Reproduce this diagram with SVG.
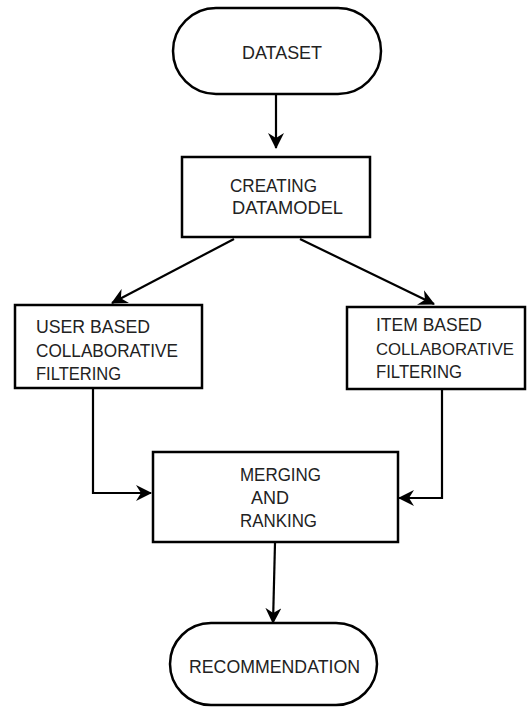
<svg xmlns="http://www.w3.org/2000/svg" width="528" height="708" viewBox="0 0 528 708">
<style>
.box{fill:#fff;stroke:#000;stroke-width:2.5}
.t{font-family:"Liberation Sans",Arial,sans-serif;font-size:19px;fill:#222}
.s{font-size:16.5px}
.c{fill:none;stroke:#000;stroke-width:2.2}
</style>
<defs>
<marker id="ah" viewBox="0 0 16 16" refX="15" refY="8" markerWidth="16" markerHeight="16" markerUnits="userSpaceOnUse" orient="auto">
<path d="M0,0 L16,8 L0,16 L5,8 Z" fill="#000"/>
</marker>
</defs>
<rect width="528" height="708" fill="#fff"/>
<g id="connectors">
<path class="c" d="M276,94 V148" marker-end="url(#ah)"/>
<path class="c" d="M234,239 L112,303" marker-end="url(#ah)"/>
<path class="c" d="M300,239 L434,304" marker-end="url(#ah)"/>
<path class="c" d="M93,389 V493 H151" marker-end="url(#ah)"/>
<path class="c" d="M442,390 V498 H399" marker-end="url(#ah)"/>
<path class="c" d="M275,543 L273,623" marker-end="url(#ah)"/>
</g>
<g id="dataset">
<rect class="box" x="173" y="8" width="208" height="86" rx="43"/>
<text class="t" x="242" y="59" textLength="80" lengthAdjust="spacingAndGlyphs">DATASET</text>
</g>
<g id="datamodel">
<rect class="box" x="182" y="157" width="188" height="80"/>
<text class="t" x="230" y="192" textLength="87" lengthAdjust="spacingAndGlyphs">CREATING</text>
<text class="t" x="232" y="214" textLength="111" lengthAdjust="spacingAndGlyphs">DATAMODEL</text>
</g>
<g id="userbased">
<rect class="box" x="15" y="305" width="187" height="83"/>
<text class="t" x="36" y="333" textLength="114" lengthAdjust="spacingAndGlyphs">USER BASED</text>
<text class="t" x="36" y="357" textLength="142" lengthAdjust="spacingAndGlyphs">COLLABORATIVE</text>
<text class="t" x="36" y="380" textLength="85" lengthAdjust="spacingAndGlyphs">FILTERING</text>
</g>
<g id="itembased">
<rect class="box" x="347" y="307" width="178" height="82"/>
<text class="t" x="376" y="331" textLength="106" lengthAdjust="spacingAndGlyphs">ITEM BASED</text>
<text class="t s" x="376" y="355" textLength="138" lengthAdjust="spacingAndGlyphs">COLLABORATIVE</text>
<text class="t" x="376" y="378" textLength="86" lengthAdjust="spacingAndGlyphs">FILTERING</text>
</g>
<g id="merging">
<rect class="box" x="153" y="452" width="245" height="90"/>
<text class="t" x="240" y="481" textLength="81" lengthAdjust="spacingAndGlyphs">MERGING</text>
<text class="t" x="251" y="504" textLength="38" lengthAdjust="spacingAndGlyphs">AND</text>
<text class="t" x="240" y="527" textLength="77" lengthAdjust="spacingAndGlyphs">RANKING</text>
</g>
<g id="recommendation">
<rect class="box" x="170" y="623" width="207" height="82" rx="41"/>
<text class="t" x="189" y="673" textLength="171" lengthAdjust="spacingAndGlyphs">RECOMMENDATION</text>
</g>
</svg>
